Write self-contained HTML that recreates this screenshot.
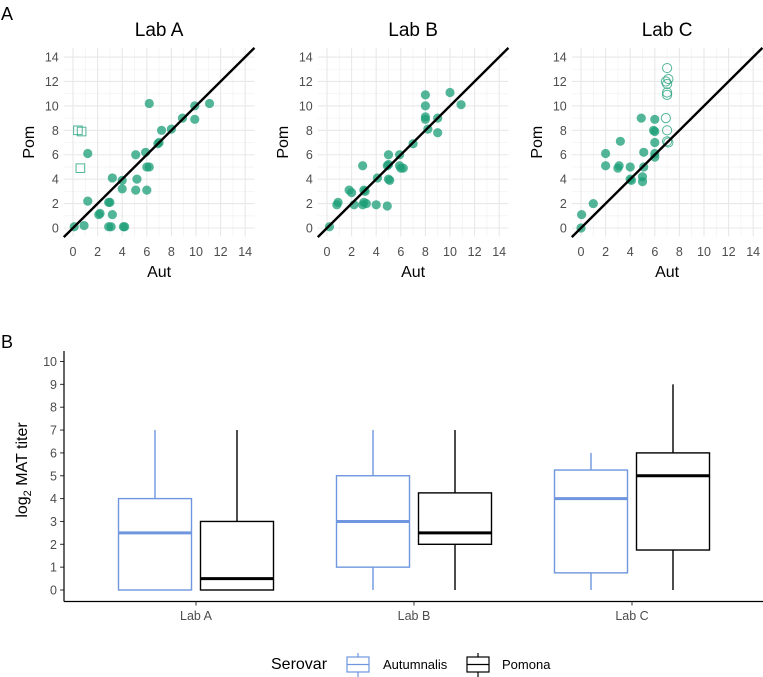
<!DOCTYPE html>
<html><head><meta charset="utf-8">
<style>
html,body{margin:0;padding:0;background:#fff;}
svg{display:block;font-family:"Liberation Sans",Arial,sans-serif;}
</style></head>
<body>
<svg id="fig" width="763" height="677" viewBox="0 0 763 677" xmlns="http://www.w3.org/2000/svg">
<text x="1" y="20" font-size="18" fill="#000">A</text>
<text x="1" y="348" font-size="18" fill="#000">B</text>
<g id="scatter"></g>
<g id="box"></g>
</svg>
<script>
// ---------- Scatter data ----------
const labs = ["Lab A","Lab B","Lab C"];
const scatterTicks = [0,2,4,6,8,10,12,14];
const labA_aut = [0.1,0.9,1.2,1.2,2.1,2.2,2.9,3.0,3.2,2.9,3.1,3.2,4.0,4.0,4.1,4.2,5.1,5.2,5.1,6.0,5.9,6.0,6.2,6.2,6.9,7.0,7.2,8.0,8.9,9.9,9.9,11.1];
const labA_pom = [0.1,0.2,2.2,6.1,1.1,1.2,2.1,2.1,1.1,0.1,0.1,4.1,3.9,3.2,0.1,0.1,6.0,4.0,3.1,3.1,6.2,5.0,5.0,10.2,6.9,7.0,8.0,8.1,9.0,10.0,8.9,10.2];
const labA_openAut = [0.4,0.7,0.6];
const labA_openPom = [8.0,7.9,4.9];
const labB_aut = [0.2,0.8,0.9,1.8,2.0,2.2,2.9,2.9,3.0,3.2,3.0,3.1,4.0,4.1,4.9,5.0,4.9,5.0,5.1,5.0,5.9,5.9,6.0,6.2,7.0,8.0,8.0,8.0,8.0,8.2,9.0,9.0,10.0,10.9];
const labB_pom = [0.1,1.9,2.1,3.1,2.9,1.9,5.1,1.9,2.1,2.0,3.1,3.0,1.9,4.1,1.8,6.0,5.1,5.2,3.9,4.0,6.0,5.1,4.9,4.9,6.9,8.9,9.1,10.0,10.9,8.1,9.0,7.8,11.1,10.1];
const labB_openAut = [];
const labB_openPom = [];
const labC_aut = [0.0,0.05,1.0,2.0,2.0,3.0,3.1,3.2,4.0,4.0,4.1,4.9,5.1,5.1,5.0,5.0,6.0,5.9,6.0,6.0,6.0,6.0];
const labC_pom = [0.0,1.1,2.0,6.1,5.1,4.9,5.1,7.1,5.0,4.0,3.9,9.0,6.2,5.0,4.2,3.8,8.9,8.0,7.9,7.0,6.1,5.8];
const labC_openAut = [7.0,6.9,7.1,7.0,7.0,7.0,6.9,7.0,7.0,7.1];
const labC_openPom = [13.1,12.0,12.2,11.8,11.1,10.9,9.0,8.0,7.1,7.0];

// ---------- Box data ----------
const boxGroups = ["Lab A","Lab B","Lab C"];
const serovars = ["Autumnalis","Pomona"];
const autMin = [0,0,0], autQ1 = [0,1,0.75], autMed = [2.5,3,4], autQ3 = [4,5,5.25], autMax = [7,7,6];
const pomMin = [0,0,0], pomQ1 = [0,2,1.75], pomMed = [0.5,2.5,5], pomQ3 = [3,4.25,6], pomMax = [7,7,9];
const boxTicks = [0,1,2,3,4,5,6,7,8,9,10];

const NS = "http://www.w3.org/2000/svg";
function mk(tag, attrs, parent){
  const e = document.createElementNS(NS, tag);
  for (const k in attrs) e.setAttribute(k, attrs[k]);
  parent.appendChild(e);
  return e;
}
const sc = document.getElementById("scatter");
const panelX0 = [73, 327, 581];
const unit = 12.3;
const yZero = 228, yUnit = 12.21;
const labData = [
  [labA_aut, labA_pom, labA_openAut, labA_openPom, "square"],
  [labB_aut, labB_pom, labB_openAut, labB_openPom, "square"],
  [labC_aut, labC_pom, labC_openAut, labC_openPom, "circle"]
];
labs.forEach((lab, i) => {
  const x0 = panelX0[i];
  const sx = v => x0 + v * unit;
  const sy = v => yZero - v * yUnit;
  const g = mk("g", {}, sc);
  
  
  const L = sx(-0.75), R = sx(14.75), T = sy(14.75), B = sy(-0.7);
  // minor grid
  for (let v = -1; v <= 15; v += 2) {
    if (sx(v) >= L && sx(v) <= R) {
      const l = mk("line", {x1: sx(v), x2: sx(v), y1: T, y2: B, stroke: "#f3f3f3", "stroke-width": 0.8}, g);
      
      
    }
    if (sy(v) >= T && sy(v) <= B) {
      const l = mk("line", {x1: L, x2: R, y1: sy(v), y2: sy(v), stroke: "#f3f3f3", "stroke-width": 0.8}, g);
      
      
    }
  }
  scatterTicks.forEach(t => {
    const lv = mk("line", {x1: sx(t), x2: sx(t), y1: T, y2: B, stroke: "#e8e8e8", "stroke-width": 1.1}, g);
    
    
    const lh = mk("line", {x1: L, x2: R, y1: sy(t), y2: sy(t), stroke: "#e8e8e8", "stroke-width": 1.1}, g);
    
    
    const tx = mk("text", {x: sx(t), y: 256, "font-size": 12.5, fill: "#4d4d4d", "text-anchor": "middle"}, g);
    tx.textContent = t;
    
    
    const ty = mk("text", {x: L - 5, y: sy(t) + 4.5, "font-size": 12.5, fill: "#4d4d4d", "text-anchor": "end"}, g);
    ty.textContent = t;
    
    
  });
  const title = mk("text", {x: (L + R) / 2, y: 36, "font-size": 19, fill: "#000", "text-anchor": "middle"}, g);
  title.textContent = lab;
  
  
  const xt = mk("text", {x: (L + R) / 2, y: 277, "font-size": 16, fill: "#000", "text-anchor": "middle"}, g);
  xt.textContent = "Aut";
  
  
  const yx = L - 30, yy = (T + B) / 2;
  const yt = mk("text", {x: yx, y: yy, "font-size": 16, fill: "#000", "text-anchor": "middle", transform: `rotate(-90 ${yx} ${yy})`}, g);
  yt.textContent = "Pom";
  
  
  const [ax, py, oax, opy, shape] = labData[i];
  ax.forEach((a, k) => {
    const c = mk("circle", {cx: sx(a), cy: sy(py[k]), r: 4.6, fill: "#1b9e77", "fill-opacity": 0.75}, g);
    
    
  });
  oax.forEach((a, k) => {
    let e;
    if (shape === "square") {
      e = mk("rect", {x: sx(a) - 4.3, y: sy(opy[k]) - 4.3, width: 8.6, height: 8.6, fill: "none", stroke: "#1b9e77", "stroke-opacity": 0.75, "stroke-width": 1}, g);
    } else {
      e = mk("circle", {cx: sx(a), cy: sy(opy[k]), r: 4.6, fill: "none", stroke: "#1b9e77", "stroke-opacity": 0.75, "stroke-width": 1}, g);
    }
    
    
  });
  const d = mk("line", {x1: sx(-0.75), y1: sy(-0.75), x2: sx(14.75), y2: sy(14.75), stroke: "#000", "stroke-width": 2.4}, g);
  
  
});

// ---------- Box plot ----------
const bx = document.getElementById("box");
const by = v => 590 - v * 22.85;
const groupX = [196, 414, 632];
const halfW = 36.5, dodge = 41;
const axX = 64, axY = 601.5;
boxTicks.forEach(t => {
  const tk = mk("line", {x1: axX - 4, x2: axX, y1: by(t), y2: by(t), stroke: "#333", "stroke-width": 1}, bx);
  
  
  const tl = mk("text", {x: axX - 7, y: by(t) + 4.5, "font-size": 12.5, fill: "#4d4d4d", "text-anchor": "end"}, bx);
  tl.textContent = t;
  
  
});
const ya = mk("line", {x1: axX, x2: axX, y1: 351, y2: axY, stroke: "#000", "stroke-width": 1.2}, bx);


const xa = mk("line", {x1: axX, x2: 763, y1: axY, y2: axY, stroke: "#000", "stroke-width": 1.2}, bx);


const ytt = mk("text", {x: 27, y: 470, "font-size": 16, fill: "#000", "text-anchor": "middle", transform: "rotate(-90 27 470)"}, bx);
ytt.innerHTML = 'log<tspan font-size="11" dy="4">2</tspan><tspan dy="-4"> MAT titer</tspan>';


const stats = [
  [autMin, autQ1, autMed, autQ3, autMax, "#6f96de", -dodge],
  [pomMin, pomQ1, pomMed, pomQ3, pomMax, "#000", dodge]
];
boxGroups.forEach((gname, i) => {
  const tk = mk("line", {x1: groupX[i], x2: groupX[i], y1: axY, y2: axY + 4, stroke: "#333", "stroke-width": 1}, bx);
  
  
  const tl = mk("text", {x: groupX[i], y: 620, "font-size": 12.5, fill: "#4d4d4d", "text-anchor": "middle"}, bx);
  tl.textContent = gname;
  
  
  stats.forEach((s, j) => {
    const [mn, q1, md, q3, mx, col, off] = s;
    const cx = groupX[i] + off;
    const g = mk("g", {}, bx);
    
    
    const w1 = mk("line", {x1: cx, x2: cx, y1: by(q3[i]), y2: by(mx[i]), stroke: col, "stroke-width": 1.4}, g);
    
    
    const w2 = mk("line", {x1: cx, x2: cx, y1: by(q1[i]), y2: by(mn[i]), stroke: col, "stroke-width": 1.4}, g);
    
    
    const r = mk("rect", {x: cx - halfW, y: by(q3[i]), width: 2 * halfW, height: Math.max(by(q1[i]) - by(q3[i]), 0), fill: "#fff", stroke: col, "stroke-width": 1.4}, g);
    
    
    const m = mk("line", {x1: cx - halfW, x2: cx + halfW, y1: by(md[i]), y2: by(md[i]), stroke: col, "stroke-width": 3}, g);
    
    
  });
});
// legend
const lg = mk("g", {}, bx);


const lt = mk("text", {x: 271, y: 669, "font-size": 16, fill: "#000"}, lg);
lt.textContent = "Serovar";


const legendX = [347, 467], legendCol = ["#6f96de", "#000"], legendTextX = [383, 502];
serovars.forEach((s, j) => {
  const kx = legendX[j], kc = legendCol[j];
  const v = mk("line", {x1: kx + 11, x2: kx + 11, y1: 653, y2: 677, stroke: kc, "stroke-width": 1.2}, lg);
  
  
  const r = mk("rect", {x: kx, y: 657, width: 22, height: 15, fill: "#fff", stroke: kc, "stroke-width": 1.2}, lg);
  
  
  const m = mk("line", {x1: kx, x2: kx + 22, y1: 664.5, y2: 664.5, stroke: kc, "stroke-width": 1.2}, lg);
  
  
  const t = mk("text", {x: legendTextX[j], y: 669, "font-size": 13, fill: "#000"}, lg);
  t.textContent = s;
  
  
});
</script>
</body></html>
